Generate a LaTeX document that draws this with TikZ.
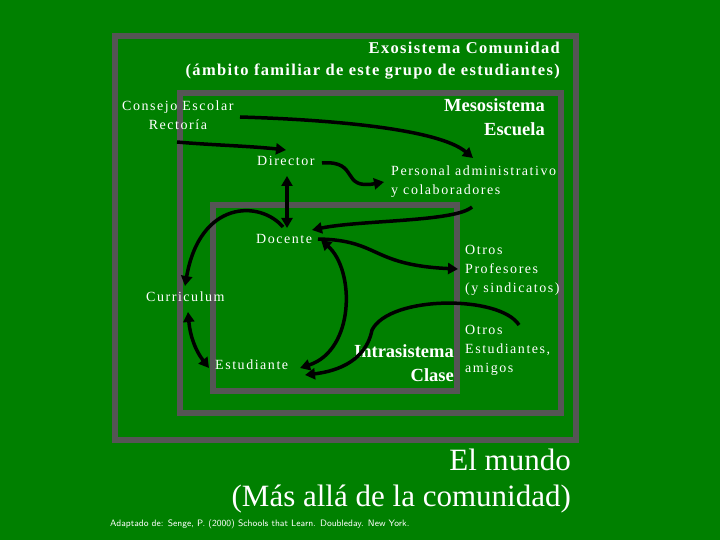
\documentclass[tikz,border=0pt]{standalone}
\usepackage{fontspec}
\setmainfont{Liberation Serif}
\newfontfamily\spfont[LetterSpace=11]{Liberation Serif}
\newfontfamily\spbfont[LetterSpace=8]{Liberation Serif}
\usetikzlibrary{arrows.meta}
\definecolor{bg}{RGB}{0,128,0}
\definecolor{frame}{RGB}{85,85,85}
\begin{document}
\begin{tikzpicture}[x=1pt,y=-1pt,
  box/.style={draw=frame,line width=6pt},
  lbl/.style={text=white,inner sep=0pt,font=\spfont\fontsize{14}{19}\selectfont,align=left},
  big/.style={text=white,inner sep=0pt,font=\spbfont\bfseries\fontsize{16.5}{22}\selectfont,align=right},
  bigger/.style={big,font=\bfseries\fontsize{18.5}{24}\selectfont},
  arr/.style={line width=3.5pt,-{Triangle[length=10pt,width=11pt]}},
  darr/.style={line width=3.5pt,{Triangle[length=10pt,width=11pt]}-{Triangle[length=10pt,width=11pt]}}]
\fill[bg] (0,0) rectangle (720,540);
\useasboundingbox (0,0) rectangle (720,540);
\draw[box] (115,36) rectangle (576,440);
\draw[box] (180,93) rectangle (561,413);
\draw[box] (213,205) rectangle (457,391);
\node[big,anchor=north east] (exo) at (560,42) {Exosistema Comunidad\\(ámbito familiar de este grupo de estudiantes)};
\node[bigger,anchor=north east] (meso) at (545,98) {Mesosistema\\Escuela};
\node[lbl,anchor=north west,align=center] (cons) at (122,101) {Consejo Escolar\\Rectoría};
\node[lbl,anchor=north west] (dir) at (257,156) {Director};
\node[lbl,anchor=north west] (pers) at (391,166) {Personal administrativo\\y colaboradores};
\node[lbl,anchor=north west] (doc) at (256,234) {Docente};
\node[lbl,anchor=north west] (otp) at (465,245) {Otros\\Profesores\\(y sindicatos)};
\node[lbl,anchor=north west] (cur) at (146,292) {Curriculum};
\node[lbl,anchor=north west] (otes) at (465,325) {Otros\\Estudiantes,\\amigos};
\node[lbl,anchor=north west] (est) at (215,360) {Estudiante};
\node[bigger,anchor=north east] (intra) at (454,344) {Intrasistema\\Clase};
\node[text=white,anchor=north east,inner sep=0pt,align=right,font=\fontsize{31}{36}\selectfont] (mundo) at (571,449) {El mundo\\(Más allá de la comunidad)};
\node[text=white,anchor=west,inner sep=0pt,font=\sffamily\fontsize{9.3}{10}\selectfont] (src) at (110,524) {Adaptado de: Senge, P. (2000) Schools that Learn. Doubleday. New York.};
\coordinate (a1) at (240,117); \coordinate (b1) at (473,158);
\draw[arr] (a1) .. controls (340,120) and (440,130) .. (b1);
\coordinate (a2) at (177,142); \coordinate (b2) at (286,150);
\draw[arr] (a2) .. controls (210,145) and (250,146) .. (b2);
\coordinate (a3) at (322,163); \coordinate (b3) at (384,182);
\draw[arr] (a3) .. controls (360,160) and (340,190) .. (b3);
\coordinate (a4) at (287,176); \coordinate (b4) at (287,228);
\draw[darr] (a4) -- (b4);
\coordinate (a5) at (472,207); \coordinate (b5) at (312,230);
\draw[arr] (a5) .. controls (455,222) and (360,220) .. (b5);
\coordinate (a6) at (318,239); \coordinate (b6) at (458,269);
\draw[arr] (a6) .. controls (380,240) and (370,265) .. (b6);
\coordinate (a7) at (283,227); \coordinate (b7) at (185,286);
\draw[arr] (a7) .. controls (260,200) and (200,200) .. (b7);
\coordinate (a8) at (188,312); \coordinate (b8) at (209,368);
\draw[darr] (a8) .. controls (190,335) and (195,350) .. (b8);
\coordinate (a9) at (321,240); \coordinate (b9) at (300,368);
\draw[darr] (a9) .. controls (355,270) and (355,350) .. (b9);
\coordinate (a10) at (519,325); \coordinate (b10) at (305,375);
\draw[arr] (a10) .. controls (500,295) and (390,295) .. (372,330) .. controls (365,365) and (330,372) .. (b10);
\end{tikzpicture}
\end{document}
